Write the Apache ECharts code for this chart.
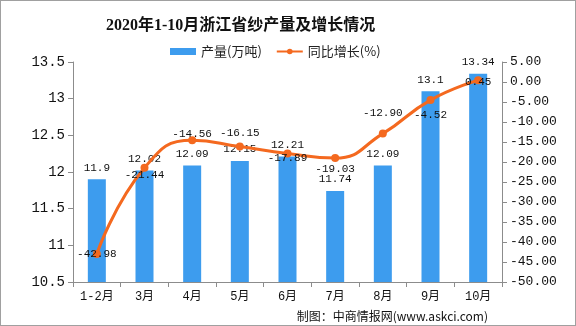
<!DOCTYPE html>
<html><head><meta charset="utf-8">
<script src="https://cdn.jsdelivr.net/npm/echarts@6/dist/echarts.min.js"></script>
<style>
html,body{margin:0;padding:0;background:#fff;}
#c{width:576px;height:326px;box-sizing:border-box;border:1px solid #a0a0a0;}
</style></head>
<body><div id="c"></div>
<script>
const categories = ['1-2月','3月','4月','5月','6月','7月','8月','9月','10月'];
const output = [11.9, 12.02, 12.09, 12.15, 12.21, 11.74, 12.09, 13.1, 13.34];
const growth = [-42.98, -21.44, -14.56, -16.15, -17.89, -19.03, -12.90, -4.52, 0.45];
const leftTicks = {min: 10.5, max: 13.5, interval: 0.5};
const rightTicks = {min: -50, max: 5, interval: 5};
// label vertical offsets for line labels (styling only)
const lineLabelDy = [0, 7, -6, -14, 5, 11, -21, 15, 2];

const numFont = 'Liberation Mono, Noto Sans CJK SC';
const chart = echarts.init(document.getElementById('c'), null, {renderer: 'canvas'});
chart.setOption({
  animation: false,
  title: {
    text: '2020年1-10月浙江省纱产量及增长情况',
    left: 100, top: 12,
    textStyle: {fontFamily: 'Liberation Serif, Noto Sans CJK SC', fontWeight: 'bold', fontSize: 16, color: '#111'}
  },
  legend: {
    top: 39, left: 164, itemGap: 14, itemWidth: 26, itemHeight: 7,
    textStyle: {fontFamily: 'Noto Sans CJK SC', fontSize: 13, color: '#222'},
    data: [
      {name: '产量(万吨)', icon: 'rect'},
      {name: '同比增长(%)'}
    ]
  },
  grid: {left: 72, right: 73, top: 61, bottom: 43},
  xAxis: {
    type: 'category', data: categories,
    axisLine: {onZero: false, lineStyle: {color: '#8c8c8c'}},
    axisTick: {show: true, length: 5, lineStyle: {color: '#8c8c8c'}},
    axisLabel: {fontFamily: numFont, fontSize: 12, color: '#111', margin: 9}
  },
  yAxis: [
    {
      type: 'value', min: leftTicks.min, max: leftTicks.max, interval: leftTicks.interval,
      axisLine: {show: true, lineStyle: {color: '#8c8c8c'}},
      axisTick: {show: true, length: 5, lineStyle: {color: '#8c8c8c'}},
      splitLine: {show: false},
      axisLabel: {fontFamily: numFont, fontSize: 14, color: '#111', margin: 8}
    },
    {
      type: 'value', min: rightTicks.min, max: rightTicks.max, interval: rightTicks.interval,
      axisLine: {show: true, lineStyle: {color: '#8c8c8c'}},
      axisTick: {show: true, length: 5, lineStyle: {color: '#8c8c8c'}},
      splitLine: {show: false},
      axisLabel: {fontFamily: numFont, fontSize: 13, color: '#111', margin: 8,
        formatter: v => v.toFixed(2)}
    }
  ],
  series: [
    {
      name: '产量(万吨)', type: 'bar', data: output, barWidth: 18,
      itemStyle: {color: '#3d9cee'},
      label: {show: true, position: 'top', distance: 6, fontFamily: numFont, fontSize: 11, color: '#111'}
    },
    {
      name: '同比增长(%)', type: 'line', yAxisIndex: 1, smooth: 0.5,
      data: growth.map((v, i) => ({value: v, label: {offset: [0, lineLabelDy[i]]}})),
      symbol: 'circle', symbolSize: 8,
      lineStyle: {color: '#f4691f', width: 3},
      itemStyle: {color: '#f4691f'},
      label: {show: true, position: 'inside', fontFamily: numFont, fontSize: 11, color: '#111',
        formatter: p => p.value.toFixed(2)},
      z: 3
    }
  ],
  graphic: [{
    type: 'text', right: 87, top: 309,
    style: {text: '制图：中商情报网(www.askci.com)', font: '12px "Noto Sans CJK SC"', fill: '#111'}
  }]
});
</script></body></html>
